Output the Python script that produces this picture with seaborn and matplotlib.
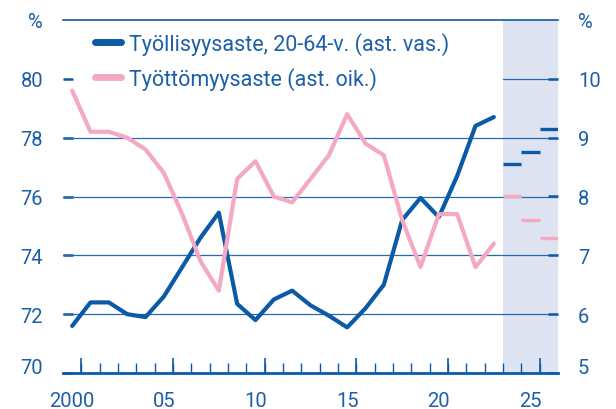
import numpy as np
import pandas as pd
import matplotlib
matplotlib.use("Agg")
import matplotlib.pyplot as plt
import matplotlib.transforms as mtransforms
from matplotlib.lines import Line2D
import seaborn as sns

# data
years = list(range(2000, 2024))
employment = [71.6, 72.4, 72.4, 72.0, 71.9, 72.6, 73.6, 74.6, 75.45, 72.35, 71.8,
              72.5, 72.8, 72.3, 71.95, 71.55, 72.2, 73.0, 75.2, 75.95, 75.3,
              76.7, 78.4, 78.7]
unemployment = [9.8, 9.1, 9.1, 9.0, 8.8, 8.4, 7.7, 6.9, 6.4, 8.3, 8.6,
                8.0, 7.9, 8.3, 8.7, 9.4, 8.9, 8.7, 7.6, 6.8, 7.7,
                7.7, 6.8, 7.2]
forecast_years = [2024, 2025, 2026]
employment_fc = [77.1, 77.5, 78.3]
unemployment_fc = [8.0, 7.6, 7.3]

x_labels = ["2000", "05", "10", "15", "20", "25"]
label_years = [2000, 2005, 2010, 2015, 2020, 2025]

BLUE = "#0b5aa8"
TEXT = "#1c5fa8"
PINK = "#f5a8c4"
SHADE = "#dee3f1"
GRID = "#2a68ae"

sns.set_style("white")
plt.rcParams["font.family"] = ["Roboto", "DejaVu Sans"]

df = pd.DataFrame({"year": years, "emp": employment, "unemp": unemployment})

fig = plt.figure(figsize=(6.16, 4.10), dpi=100)
ax = fig.add_axes([63 / 616, 36 / 410, 495 / 616, 353 / 410])
ax2 = ax.twinx()

fc_start = forecast_years[0] - 0.5
x_lo, x_hi = years[0] - 0.5, forecast_years[-1] + 0.5
ax.axvspan(fc_start, x_hi, color=SHADE, lw=0, zorder=0)

sns.lineplot(data=df, x="year", y="emp", ax=ax, color=BLUE, lw=3.0, zorder=3)
sns.lineplot(data=df, x="year", y="unemp", ax=ax2, color=PINK, lw=3.0, zorder=3)

fy = np.array(forecast_years)
ax.hlines(employment_fc, fy - 0.5, fy + 0.5, color=BLUE, lw=2.4, zorder=3)
ax2.hlines(unemployment_fc, fy - 0.5, fy + 0.5, color=PINK, lw=2.4, zorder=3)

ax.set_xlim(x_lo, x_hi)
ax.set_ylim(70, 82)
ax2.set_ylim(5, 11)
ax.set_xlabel("")
ax.set_ylabel("")
ax2.set_ylabel("")

# grid lines
for v in [72, 74, 76, 78]:
    ax.axhline(v, color=GRID, lw=0.9, zorder=1)
frac = (fc_start - x_lo) / (x_hi - x_lo)
ax.axhline(80, xmin=frac, xmax=1, color=GRID, lw=0.9, zorder=1)

ax.set_yticks([70, 72, 74, 76, 78, 80])
ax2.set_yticks([5, 6, 7, 8, 9, 10])
ax.tick_params(axis="y", direction="in", length=7, width=1.8, color=BLUE,
               labelsize=14.5, labelcolor=TEXT, pad=14.4, left=True)
ax2.tick_params(axis="y", direction="in", length=7, width=1.8, color=BLUE,
                labelsize=14.5, labelcolor=TEXT, pad=14.4, right=True)

# lift the bottom labels off the axis line a little
lift = mtransforms.ScaledTranslation(0, 7 / 100, fig.dpi_scale_trans)
for lab in (ax.get_yticklabels()[0], ax2.get_yticklabels()[0]):
    lab.set_transform(lab.get_transform() + lift)

# x axis: labels on the years, ticks between years
ax.set_xticks(label_years)
ax.set_xticklabels(x_labels)
ax.set_xticks(np.arange(x_lo + 1, x_hi, 1.0), minor=True)
ax.tick_params(axis="x", which="major", length=0, labelsize=14.5,
               labelcolor=TEXT, pad=13)
ax.tick_params(axis="x", which="minor", direction="in", length=7, width=1.0,
               color=BLUE, bottom=True)
sec = ax.secondary_xaxis("bottom")
sec.set_xticks([y + 0.5 for y in label_years])
sec.set_xticklabels([])
sec.tick_params(axis="x", direction="in", length=11, width=1.2, color=BLUE)
sec.spines["bottom"].set_visible(False)

for a in (ax, ax2):
    for s in ["left", "right"]:
        a.spines[s].set_visible(False)
ax2.spines["bottom"].set_visible(False)
ax2.spines["top"].set_visible(False)
ax.spines["bottom"].set_color(BLUE)
ax.spines["bottom"].set_linewidth(2.0)
ax.spines["top"].set_color(BLUE)
ax.spines["top"].set_linewidth(1.2)

fig.text(43 / 616, 1 - 22 / 410, "%", ha="right", va="center",
         fontsize=14.5, color=TEXT)
fig.text(578 / 616, 1 - 22 / 410, "%", ha="left", va="center",
         fontsize=14.5, color=TEXT)

handles = [Line2D([], [], color=BLUE, lw=5),
           Line2D([], [], color=PINK, lw=5)]
labels = ["Työllisyysaste, 20-64-v. (ast. vas.)", "Työttömyysaste (ast. oik.)"]
leg = ax2.legend(handles, labels, loc="upper left", bbox_to_anchor=(0.048, 0.99),
                 frameon=False, fontsize=15.5, handlelength=1.2,
                 handletextpad=0.37, labelspacing=0.55, borderaxespad=0)
for t in leg.get_texts():
    t.set_color(TEXT)

fig.savefig("out.png", dpi=100)
